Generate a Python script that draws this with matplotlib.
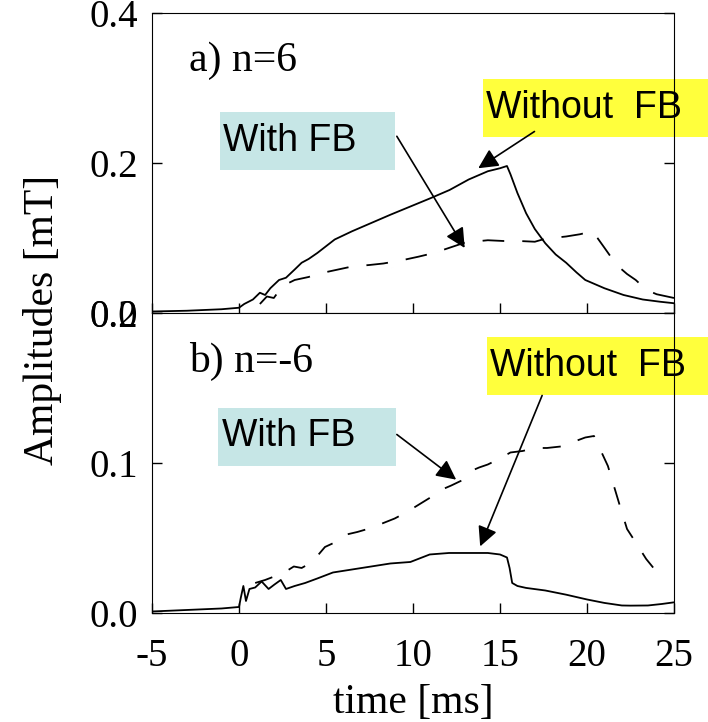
import matplotlib
matplotlib.use("Agg")
import matplotlib.pyplot as plt
from matplotlib.patches import Rectangle
from matplotlib.ticker import FormatStrFormatter

# a) n=6
t_a_without = [-5, -3, -1, 0, 0.3, 0.8, 1.2, 1.5, 1.8, 2.3, 2.7, 3.2, 3.6, 4.0, 4.5, 5.0,
               5.5, 6.5, 7.6, 8.7, 9.85, 11, 12.1, 13.2, 14.3, 15.0, 15.4, 15.6, 16.0,
               16.5, 17.0, 17.6, 18.2, 18.8, 19.4, 19.9, 21.0, 22.1, 23.2, 24.2, 25]
amp_a_without = [0.002, 0.003, 0.005, 0.007, 0.012, 0.018, 0.027, 0.024, 0.033, 0.044,
                 0.047, 0.058, 0.067, 0.072, 0.080, 0.089, 0.098, 0.109, 0.120, 0.131,
                 0.142, 0.153, 0.164, 0.178, 0.189, 0.193, 0.196, 0.185, 0.160, 0.133,
                 0.112, 0.093, 0.078, 0.067, 0.054, 0.044, 0.033, 0.024, 0.018, 0.015, 0.013]
t_a_with = [1.2, 1.6, 2.0, 2.5, 3.2, 4.0, 4.5, 5.5, 6.5, 7.5, 8.3, 9.3, 10.3, 11.2, 12.1,
            13.0, 14.3, 15.2, 16.1, 17.0, 17.6, 18.8, 19.6, 20.3, 20.6, 21.0, 21.7, 22.3,
            22.8, 23.4, 24.0, 24.6, 25]
amp_a_with = [0.012, 0.022, 0.020, 0.036, 0.044, 0.048, 0.052, 0.057, 0.062, 0.064, 0.066,
              0.070, 0.075, 0.080, 0.087, 0.094, 0.097, 0.096, 0.096, 0.095, 0.099, 0.102,
              0.105, 0.109, 0.100, 0.087, 0.064, 0.052, 0.044, 0.031, 0.025, 0.022, 0.020]

# b) n=-6
t_b_without = [-5, -3, -1, 0, 0.1, 0.25, 0.4, 0.6, 0.93, 1.3, 1.7, 2.04, 2.4, 2.7, 3.2,
               3.8, 4.5, 5.4, 6.5, 7.6, 8.7, 9.85, 10.96, 12.07, 13.2, 14.3, 15.0, 15.4,
               15.55, 15.7, 16.0, 16.5, 17.6, 18.8, 20.0, 21.0, 22.0, 22.5, 23.5, 24.3, 25]
amp_b_without = [0.001, 0.002, 0.003, 0.004, 0.010, 0.018, 0.008, 0.016, 0.017, 0.021,
                 0.016, 0.019, 0.022, 0.016, 0.018, 0.020, 0.023, 0.027, 0.029, 0.031,
                 0.033, 0.034, 0.039, 0.040, 0.040, 0.040, 0.039, 0.037, 0.030, 0.020,
                 0.018, 0.0167, 0.015, 0.0122, 0.009, 0.0067, 0.005, 0.0049, 0.005, 0.006,
                 0.0071]
t_b_with = [0.93, 1.5, 2.04, 2.6, 3.15, 3.6, 4.06, 4.5, 4.94, 5.5, 6.06, 6.8, 7.6, 8.3,
            8.95, 9.6, 10.3, 11.0, 11.6, 12.2, 12.74, 13.2, 13.8, 14.3, 15.0, 15.6, 16.3,
            17.0, 17.7, 18.5, 19.2, 19.9, 20.4, 20.8, 21.2, 21.9, 22.3, 22.8, 23.4, 24.1]
amp_b_with = [0.020, 0.022, 0.0244, 0.027, 0.031, 0.030, 0.033, 0.038, 0.044, 0.047, 0.052,
              0.054, 0.0567, 0.060, 0.063, 0.067, 0.072, 0.077, 0.082, 0.085, 0.088, 0.094,
              0.097, 0.099, 0.103, 0.107, 0.108, 0.110, 0.110, 0.111, 0.114, 0.117, 0.118,
              0.108, 0.098, 0.071, 0.056, 0.047, 0.036, 0.026]

x_ticks = [-5, 0, 5, 10, 15, 20, 25]
y_ticks_a = [0.0, 0.2, 0.4]
y_ticks_b = [0.0, 0.1, 0.2]

SERIF = "Liberation Serif"
SANS = "Liberation Sans"
BLUE = "#c6e6e6"
YELLOW = "#ffff3c"

plt.rcParams["axes.unicode_minus"] = False


def style_axis(ax, yticks, ylim):
    ax.set_xlim(-5, 25)
    ax.set_ylim(*ylim)
    ax.set_xticks(x_ticks)
    ax.set_yticks(yticks)
    ax.yaxis.set_major_formatter(FormatStrFormatter("%.1f"))
    ax.tick_params(direction="in", length=7, width=1, right=True, top=False,
                   labelsize=28)
    ax.tick_params(axis="y", pad=10)
    ax.tick_params(axis="x", pad=18)
    for lab in ax.get_xticklabels() + ax.get_yticklabels():
        lab.set_fontfamily(SERIF)


def label_box(ax, x0, y0, w, h, color, text, tx, ty):
    ax.add_patch(Rectangle((x0, y0), w, h, facecolor=color, edgecolor="none",
                           clip_on=False, zorder=1))
    ax.text(tx, ty, text, fontsize=27, family=SANS, va="center", ha="left", zorder=2)


def arrow(ax, start, tip):
    ax.annotate("", xy=tip, xytext=start,
                arrowprops=dict(arrowstyle="-|>", color="k", lw=1.2,
                                mutation_scale=30, shrinkA=0, shrinkB=0),
                annotation_clip=False)


def main():
    fig = plt.figure(figsize=(7.08, 7.22), dpi=100)
    ax_a = fig.add_axes([0.2147, 0.5665, 0.7373, 0.4155])
    ax_b = fig.add_axes([0.2147, 0.151, 0.7373, 0.4155])

    ax_a.plot(t_a_without, amp_a_without, color="k", lw=1.3, zorder=3)
    line, = ax_a.plot(t_a_with, amp_a_with, color="k", lw=1.3, zorder=3)
    line.set_dashes((12, 10))
    style_axis(ax_a, y_ticks_a, (0, 0.4))
    ax_a.tick_params(labelbottom=False)
    ax_a.text(-2.9, 0.336, "a) n=6", fontsize=30, family=SERIF, va="center")
    label_box(ax_a, -1.08, 0.190, 10.03, 0.078, BLUE, "With FB", -0.9, 0.229)
    label_box(ax_a, 14.04, 0.235, 13.0, 0.077, YELLOW, "Without  FB", 14.2, 0.273)
    arrow(ax_a, (16.98, 0.242), (13.75, 0.193))
    arrow(ax_a, (9.07, 0.2356), (12.97, 0.0867))

    ax_b.plot(t_b_without, amp_b_without, color="k", lw=1.3, zorder=3)
    line, = ax_b.plot(t_b_with, amp_b_with, color="k", lw=1.3, zorder=3)
    line.set_dashes((10, 10))
    style_axis(ax_b, y_ticks_b, (0, 0.2))
    ax_b.text(-2.9, 0.168, "b) n=-6", fontsize=30, family=SERIF, va="center")
    label_box(ax_b, -1.21, 0.0978, 10.23, 0.0389, BLUE, "With FB", -1.0, 0.1178)
    label_box(ax_b, 14.26, 0.145, 13.0, 0.039, YELLOW, "Without  FB", 14.4, 0.1644)
    arrow(ax_b, (17.42, 0.145), (13.86, 0.0444))
    arrow(ax_b, (9.07, 0.119), (12.48, 0.0889))

    ax_b.set_xlabel("time [ms]", fontsize=30, family=SERIF, labelpad=6)
    fig.text(0.06, 0.557, "Amplitudes [mT]", rotation=90, fontsize=30, family=SERIF,
             ha="center", va="center")

    fig.savefig("out.png", dpi=100)
    plt.close(fig)


if __name__ == '__main__':
    main()
